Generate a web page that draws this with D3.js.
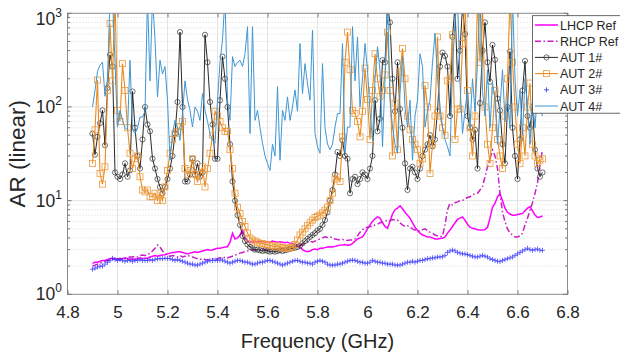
<!DOCTYPE html>
<html><head><meta charset="utf-8">
<script src="https://cdn.jsdelivr.net/npm/d3@7"></script>
<style>
body{margin:0;background:#fff}
svg{display:block}
text{font-family:"Liberation Sans",Arial,Helvetica,sans-serif;fill:#262626}
</style>
</head><body>
<svg id="chart" width="620" height="354"></svg>
<script>
// ---- data (frequency grid: 4.90 GHz .. 6.70 GHz, 0.01 GHz step) ----
const freqStart = 4.90, freqStep = 0.01;

const lhcpRef = [2.14,2.2,2.2,2.25,2.3,2.3,2.35,2.4,2.42,2.4,
2.35,2.35,2.4,2.45,2.4,2.35,2.4,2.35,2.4,2.45,
2.4,2.42,2.42,2.5,2.55,2.6,2.55,2.6,2.63,2.65,
2.7,2.75,2.8,2.8,2.85,2.85,2.8,2.75,2.7,2.75,
2.8,2.85,2.8,2.85,2.9,2.95,3.0,2.95,2.97,3.05,
3.1,3.1,3.15,3.2,3.22,3.6,4.48,3.9,4.0,4.3,
4.85,4.0,3.7,3.64,3.6,3.65,3.6,3.7,3.65,3.6,
3.65,3.6,3.7,3.65,3.6,3.64,3.6,3.55,3.6,3.5,
3.5,3.4,3.3,3.2,3.0,2.9,2.85,2.9,3.0,3.05,
3.0,3.1,3.1,3.15,3.2,3.22,3.2,3.25,3.3,3.35,
3.36,3.4,3.35,3.36,3.5,3.7,3.9,4.0,4.1,4.5,
5.0,5.5,6.0,6.4,6.7,6.5,5.8,5.3,5.06,6.0,
7.2,8.0,8.3,8.8,8.2,7.5,7.0,6.5,5.8,5.2,
4.8,4.5,4.3,4.2,4.1,4.1,4.0,3.9,3.9,3.95,
3.96,4.1,4.5,4.85,5.3,5.8,6.3,6.5,6.7,6.2,
5.6,5.2,5.06,5.0,4.9,4.85,4.85,4.9,5.2,6.5,
8.5,9.35,11,11.9,10,8.3,7.5,7.2,7.0,7.0,
7.1,7.2,7.3,7.8,8.3,8.6,7.8,7.0,6.6,6.7,
6.85];

const rhcpRef = [2.0,2.05,2.1,2.15,2.2,2.25,2.3,2.3,2.35,2.4,
2.4,2.38,2.4,2.42,2.45,2.5,2.5,2.55,2.5,2.6,
2.62,2.6,2.63,2.75,2.9,3.1,3.36,3.2,2.9,2.75,
2.6,2.55,2.6,2.55,2.5,2.6,2.5,2.55,2.6,2.55,
2.5,2.45,2.4,2.35,2.4,2.35,2.32,2.35,2.4,2.35,
2.4,2.45,2.4,2.5,2.45,2.5,2.55,2.6,2.7,2.75,
2.8,2.85,2.9,2.95,3.0,2.95,2.97,3.0,3.05,3.0,
2.97,3.0,3.05,3.0,3.05,3.1,3.0,3.05,3.1,3.2,
3.2,3.25,3.3,3.35,3.4,3.5,3.6,3.7,3.6,3.7,
3.8,3.9,4.0,4.1,4.05,4.1,4.0,3.9,3.85,3.8,
3.85,3.8,3.75,3.8,3.8,3.9,4.2,4.6,4.9,5.1,
5.2,5.3,5.3,5.5,5.6,5.8,5.9,6.0,6.2,6.1,
6.3,6.2,6.2,5.8,5.5,5.3,5.4,5.2,5.0,4.85,
4.85,4.7,4.9,5.0,4.8,4.6,4.5,4.3,4.2,4.1,
4.2,5.5,8.0,9.35,9.0,9.5,9.7,10,10,10.5,
10.8,11,11.5,11.9,12,13,14.1,18,23,28,
34.7,30,22,12,7.5,6.0,5.0,4.5,4.3,4.1,
4.1,4.2,4.5,5.5,6.5,7.9,9.5,12,15.3,25,
34.7];

const aut1 = [52,31,48,67,92,39,160,360,270,20,
18,17,19,25,18,21,146,60,30,22,
45,100,65,55,28,22,17,14,12,14,
17,22,30,52,113,630,100,16,16,19,
28,19,25,18,20,590,300,113,65,28,
28,118,345,200,100,40,16,10,7,5.5,
4.2,3.7,3.4,3.2,3.1,3.0,3.0,2.95,2.9,2.95,
2.9,2.85,2.9,2.85,2.9,2.95,2.9,2.95,3.0,3.05,
3.1,3.15,3.2,3.3,3.5,3.7,3.9,4.1,4.3,4.5,
4.8,5.0,5.5,6.2,7.5,10,13,19,33,30,
44,30,28,12,17,18,15,17,20,19,
17,22,30,118,55,75,316,300,1200,800,
200,90,300,95,60,25,13,22,23,20,
17,22,30,35,40,50,38,45,90,270,
380,350,270,80,560,1200,200,400,1200,600,
80,60,45,57,22,110,400,800,300,186,
460,320,123,92,40,25,100,390,60,30,
17,45,150,310,80,60,100,35,22,18,
20];

const aut2 = [25,57,194,19.5,15,23,150,780,190,1500,
92,70,290,150,60,32,22,28,30,18,
13,12.4,13,11,11,12,10,12,10,14,
21,32,45,52,55,62,70,22,19,21,
28,19,16,19,23,14,22,32,50,90,
80,70,60,55,55,35,22,12,8.5,7.3,
6,5.3,4.5,4.0,3.8,3.7,3.6,3.5,3.5,3.4,
3.4,3.3,3.3,3.2,3.3,3.2,3.15,3.1,3.1,3.15,
3.2,3.4,3.8,4.3,4.6,5.0,5.4,5.8,6.2,6.6,
6.8,7.0,7.4,7.9,8.5,10,12,17,18,16,
48,300,630,250,92,85,70,48,90,260,
120,45,150,370,200,130,150,220,630,150,
30,110,35,237,420,200,80,57,45,40,
35,25,28,170,100,19.5,40,80,560,80,
60,50,190,200,590,45,95,95,475,1500,
150,60,30,80,1500,300,1200,100,40,25,
60,150,45,30,22,80,200,1500,300,100,
40,25,60,30,100,180,40,30,25,27,
28];

const aut3 = [1.85,1.9,1.95,2.0,2.0,2.1,2.2,2.3,2.42,2.35,
2.3,2.35,2.3,2.25,2.3,2.3,2.25,2.3,2.3,2.35,
2.3,2.3,2.3,2.35,2.3,2.35,2.4,2.4,2.4,2.42,
2.42,2.4,2.35,2.3,2.35,2.3,2.25,2.2,2.15,2.1,
2.1,2.05,2.05,2.1,2.15,2.2,2.25,2.3,2.3,2.32,
2.3,2.32,2.32,2.25,2.2,2.15,2.2,2.25,2.3,2.3,
2.25,2.2,2.2,2.15,2.1,2.1,2.15,2.2,2.2,2.25,
2.3,2.3,2.25,2.2,2.15,2.1,2.05,2.1,2.15,2.2,
2.25,2.3,2.3,2.25,2.2,2.2,2.15,2.15,2.1,2.2,
2.25,2.3,2.25,2.2,2.1,2.05,2.05,2.05,2.1,2.1,
2.15,2.2,2.25,2.3,2.32,2.3,2.25,2.2,2.2,2.15,
2.15,2.2,2.3,2.25,2.2,2.2,2.15,2.15,2.1,2.1,
2.1,2.05,2.05,2.05,2.1,2.15,2.2,2.2,2.25,2.2,
2.25,2.3,2.3,2.35,2.4,2.4,2.45,2.45,2.5,2.5,
2.52,2.6,2.8,2.9,2.97,2.9,2.8,2.75,2.7,2.7,
2.65,2.6,2.55,2.5,2.5,2.55,2.6,2.55,2.5,2.4,
2.35,2.3,2.25,2.23,2.3,2.35,2.4,2.45,2.5,2.6,
2.7,2.8,2.9,3.0,3.1,3.0,2.95,3.0,3.05,2.95,
2.95];

const aut4 = [100,150,240,280,300,130,200,1500,1500,300,
61,92,72,60,57,315,57,52,60,78,
78,90,1500,190,1500,520,128,315,225,270,
118,27,52,72,60,44,85,190,120,92,
61,100,90,72,139,92,70,52,44,41,
118,300,520,1500,118,72,345,270,300,315,
270,370,720,52,720,72,92,60,41,30,
25,21,40,30,165,27,92,72,128,72,
100,152,90,475,139,290,176,118,660,52,
37.5,32,290,60,40,35,40,61,85,85,
475,32,61,61,720,190,560,100,200,475,
245,90,44,200,440,245,37.5,200,1500,118,
61,40,32,139,345,100,61,118,27,80,
118,370,270,61,90,118,300,610,210,100,
61,45,37.5,30,270,800,1500,176,52,92,
150,60,200,90,300,1500,150,80,250,60,
180,120,40,100,250,70,120,60,1500,200,
80,150,50,200,100,40,120,60,150,100,
80];

const seriesNames = ["LHCP Ref","RHCP Ref","AUT 1#","AUT 2#","AUT 3#","AUT 4#"];
const xTicks = [4.8,5.0,5.2,5.4,5.6,5.8,6.0,6.2,6.4,6.6,6.8];
const xTickLabels = ["4.8","5","5.2","5.4","5.6","5.8","6","6.2","6.4","6.6","6.8"];
const yTicks = [1,10,100,1000];
const yTickExponents = ["0","1","2","3"];
const xTitle = "Frequency (GHz)";
const yTitle = "AR (linear)";

// ---- layout ----
const L = 67.5, R = 567.5, T = 13.3, B = 294.3;
const svg = d3.select("#chart");
const x = d3.scaleLinear().domain([4.8, 6.8]).range([L, R]);
const y = d3.scaleLog().domain([1, 1000]).range([B, T]);
const freq = aut1.map((_, i) => +(freqStart + i * freqStep).toFixed(2));

svg.append("rect").attr("x",0).attr("y",0).attr("width",620).attr("height",354).attr("fill","#fff");

// grid
const g = svg.append("g");
const minorTicks = y.ticks(30).filter(v => !yTicks.includes(v));
g.selectAll(".ymin").data(minorTicks).enter().append("line")
  .attr("x1",L).attr("x2",R).attr("y1",d=>y(d)).attr("y2",d=>y(d))
  .attr("stroke","#c8c8c8").attr("stroke-width",0.7).attr("stroke-dasharray","1,2");
g.selectAll(".ymaj").data(yTicks.slice(1,-1)).enter().append("line")
  .attr("x1",L).attr("x2",R).attr("y1",d=>y(d)).attr("y2",d=>y(d))
  .attr("stroke","#e3e3e3").attr("stroke-width",1);
g.selectAll(".xmaj").data(xTicks.slice(1,-1)).enter().append("line")
  .attr("y1",T).attr("y2",B).attr("x1",d=>x(d)).attr("x2",d=>x(d))
  .attr("stroke","#e3e3e3").attr("stroke-width",1);

// clip
svg.append("clipPath").attr("id","plotclip").append("rect")
  .attr("x",L).attr("y",T).attr("width",R-L).attr("height",B-T);
const plot = svg.append("g").attr("clip-path","url(#plotclip)");

const pts = arr => arr.map((v,i)=>[freq[i], v]);
const line = d3.line().x(d=>x(d[0])).y(d=>y(d[1]));

// LHCP
plot.append("path").attr("d", line(pts(lhcpRef))).attr("fill","none")
  .attr("stroke","#ff00ff").attr("stroke-width",1.5);
// RHCP
plot.append("path").attr("d", line(pts(rhcpRef))).attr("fill","none")
  .attr("stroke","#c81ec8").attr("stroke-width",1.5).attr("stroke-dasharray","6,2.5,1.5,2.5");
// AUT1
plot.append("path").attr("d", line(pts(aut1))).attr("fill","none")
  .attr("stroke","#111").attr("stroke-width",0.9);
plot.selectAll(".c1").data(pts(aut1)).enter().append("circle")
  .attr("cx",d=>x(d[0])).attr("cy",d=>y(d[1])).attr("r",2.6)
  .attr("fill","none").attr("stroke","#333").attr("stroke-width",0.7);
// AUT2
plot.append("path").attr("d", line(pts(aut2))).attr("fill","none")
  .attr("stroke","#ea8a1c").attr("stroke-width",1.1);
plot.selectAll(".s2").data(pts(aut2)).enter().append("rect")
  .attr("x",d=>x(d[0])-3).attr("y",d=>y(d[1])-3).attr("width",6).attr("height",6)
  .attr("fill","none").attr("stroke","#ec9a3c").attr("stroke-width",0.8);
// AUT3
plot.selectAll(".p3").data(pts(aut3)).enter().append("path")
  .attr("transform",d=>`translate(${x(d[0])},${y(d[1])})`)
  .attr("d","M-2.5,0H2.5M0,-2.5V2.5")
  .attr("stroke","#3030ff").attr("stroke-width",0.8).attr("opacity",0.85);
// AUT4
plot.append("path").attr("d", line(pts(aut4))).attr("fill","none")
  .attr("stroke","#3f96d3").attr("stroke-width",1);

// axes frame
svg.append("rect").attr("x",L).attr("y",T).attr("width",R-L).attr("height",B-T)
  .attr("fill","none").attr("stroke","#8a8a8a").attr("stroke-width",1);

// x axis
const xAxis = d3.axisBottom(x).tickValues(xTicks).tickFormat((d,i)=>xTickLabels[i])
  .tickSizeInner(-4).tickSizeOuter(0).tickPadding(12);
const xg = svg.append("g").attr("transform",`translate(0,${B})`).call(xAxis);
xg.select(".domain").remove();
xg.selectAll("line").attr("stroke","#777");
xg.selectAll("text").attr("font-size",17).attr("fill","#262626")
  .attr("font-family","'Liberation Sans',Arial,sans-serif");
const xgTop = svg.append("g").attr("transform",`translate(0,${T})`)
  .call(d3.axisTop(x).tickValues(xTicks).tickSizeInner(-4).tickSizeOuter(0).tickFormat(""));
xgTop.select(".domain").remove();
xgTop.selectAll("line").attr("stroke","#777");

// y axis (log) ticks
const ygMinor = svg.append("g");
ygMinor.selectAll("line").data(y.ticks(30)).enter().append("line")
  .attr("x1",L).attr("x2",d=>yTicks.includes(d)?L+4:L+2.5)
  .attr("y1",d=>y(d)).attr("y2",d=>y(d)).attr("stroke","#777");
ygMinor.selectAll(".r").data(y.ticks(30)).enter().append("line")
  .attr("x1",R).attr("x2",d=>yTicks.includes(d)?R-4:R-2.5)
  .attr("y1",d=>y(d)).attr("y2",d=>y(d)).attr("stroke","#777");

const ylab = svg.append("g");
yTicks.forEach((v,i)=>{
  const yy = y(v) + (i===yTicks.length-1 ? 6 : 0);
  const t = ylab.append("text").attr("x",62).attr("y",yy+6).attr("text-anchor","end")
    .attr("font-size",17.5);
  t.append("tspan").text("10");
  t.append("tspan").attr("dy",-8).attr("font-size",12).text(yTickExponents[i]);
});

// titles
svg.append("text").attr("x",(L+R)/2).attr("y",348).attr("text-anchor","middle")
  .attr("font-size",20).text(xTitle);
svg.append("text").attr("transform",`translate(25,${(T+B)/2}) rotate(-90)`)
  .attr("text-anchor","middle").attr("font-size",22.5).text(yTitle);

// legend
const lg = svg.append("g");
lg.append("rect").attr("x",532.5).attr("y",15.7).attr("width",95).attr("height",97.5)
  .attr("fill","#fff").attr("stroke","#444").attr("stroke-width",0.8);
const ly = [25,41.2,57.4,73.6,89.8,106];
const lx0 = 535, lx1 = 558, lxm = 546.5;
seriesNames.forEach((name,i)=>{
  const yy = ly[i];
  if (i===0) lg.append("line").attr("x1",lx0).attr("x2",lx1).attr("y1",yy).attr("y2",yy).attr("stroke","#ff00ff").attr("stroke-width",1.5);
  if (i===1) lg.append("line").attr("x1",lx0).attr("x2",lx1).attr("y1",yy).attr("y2",yy).attr("stroke","#c81ec8").attr("stroke-width",1.5).attr("stroke-dasharray","6,2.5,1.5,2.5");
  if (i===2) { lg.append("line").attr("x1",lx0).attr("x2",lx1).attr("y1",yy).attr("y2",yy).attr("stroke","#111").attr("stroke-width",0.9);
    lg.append("circle").attr("cx",lxm).attr("cy",yy).attr("r",2.6).attr("fill","none").attr("stroke","#333").attr("stroke-width",0.7); }
  if (i===3) { lg.append("line").attr("x1",lx0).attr("x2",lx1).attr("y1",yy).attr("y2",yy).attr("stroke","#ea8a1c").attr("stroke-width",1.1);
    lg.append("rect").attr("x",lxm-3).attr("y",yy-3).attr("width",6).attr("height",6).attr("fill","none").attr("stroke","#ec9a3c").attr("stroke-width",0.8); }
  if (i===4) lg.append("path").attr("transform",`translate(${lxm},${yy})`).attr("d","M-2.5,0H2.5M0,-2.5V2.5").attr("stroke","#3030ff").attr("stroke-width",0.8);
  if (i===5) lg.append("line").attr("x1",lx0).attr("x2",lx1).attr("y1",yy).attr("y2",yy).attr("stroke","#3f96d3").attr("stroke-width",1);
  lg.append("text").attr("x",560).attr("y",yy+4.5).attr("font-size",12.5).text(name);
});
</script>
</body></html>
